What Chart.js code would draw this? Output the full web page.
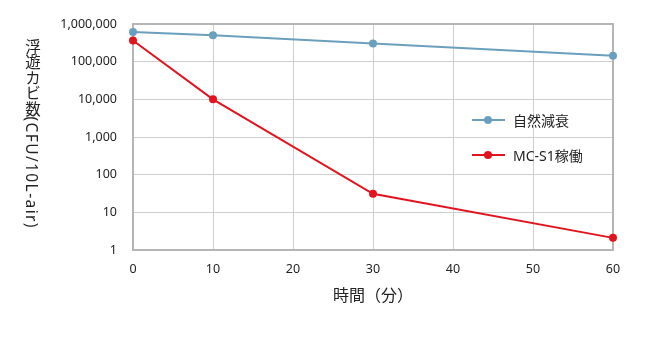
<!DOCTYPE html>
<html lang="ja">
<head>
<meta charset="UTF-8">
<title>浮遊カビ数の推移</title>
<script src="https://cdn.jsdelivr.net/npm/chart.js@4"></script>
<style>
  html, body { margin: 0; padding: 0; background: #fff; }
  body { font-family: 'Noto Sans', 'Noto Sans CJK JP', sans-serif; color: #222; }
  .wrap { position: relative; width: 650px; height: 359px; }
  .y-title { position: absolute; left: 22px; top: 39px; writing-mode: vertical-rl; font-size: 15.5px; line-height: 20px; white-space: nowrap; }
  .y-title .lat { letter-spacing: 1.4px; }
  .legend { position: absolute; left: 472px; top: 110px; font-size: 14px; }
  .legend-item { display: flex; align-items: center; height: 20px; margin-bottom: 15px; }
  .legend-line { position: relative; width: 33px; height: 2px; margin-right: 8px; }
  .legend-line::after { content: ''; position: absolute; left: 12px; top: -3px; width: 8px; height: 8px; border-radius: 50%; background: inherit; }
</style>
</head>
<body>
<div class="wrap">
  <canvas id="chart" width="650" height="359"></canvas>
  <div class="y-title">浮遊カビ数<span class="lat">(CFU/10L-air)</span></div>
  <div class="legend" id="legend"></div>
</div>
<script>
  // data
  const minutes = [0, 10, 30, 60];
  const naturalDecay = [610000, 500000, 305000, 143000];
  const mcS1 = [365000, 10000, 31, 2.1];
  const seriesNames = ['自然減衰', 'MC-S1稼働'];
  const seriesColors = ['#6b9fbe', '#e3131e'];
  const xTicks = [0, 10, 20, 30, 40, 50, 60];
  const yTicks = [1, 10, 100, 1000, 10000, 100000, 1000000];

  const FONT = "'Noto Sans', 'Noto Sans CJK JP', sans-serif";
  const toPoints = vals => minutes.map((m, i) => ({ x: m, y: vals[i] }));

  // gray frame around the plot area, drawn under the lines
  const frame = {
    id: 'frame',
    beforeDatasetsDraw(chart) {
      const { ctx, chartArea: a } = chart;
      ctx.save();
      ctx.strokeStyle = '#b5b5b5';
      ctx.lineWidth = 2;
      ctx.strokeRect(a.left, a.top, a.right - a.left, a.bottom - a.top);
      ctx.restore();
    }
  };

  const datasets = [naturalDecay, mcS1].map((vals, i) => ({
    label: seriesNames[i],
    data: toPoints(vals),
    borderColor: seriesColors[i],
    backgroundColor: seriesColors[i],
    borderWidth: 2,
    pointRadius: 4,
    pointHoverRadius: 4,
    pointBorderWidth: 0,
    tension: 0,
    clip: false
  }));

  new Chart(document.getElementById('chart'), {
    type: 'line',
    data: { datasets },
    options: {
      responsive: false,
      animation: false,
      layout: { padding: { top: 24, right: 37, left: 0, bottom: 0 } },
      plugins: { legend: { display: false }, tooltip: { enabled: false } },
      scales: {
        x: {
          type: 'linear',
          min: 0,
          max: 60,
          afterBuildTicks: s => { s.ticks = xTicks.map(v => ({ value: v })); },
          afterFit: s => { s.height = 109; },
          grid: { color: '#cfcfcf', lineWidth: 1, drawTicks: false },
          border: { display: false },
          ticks: { padding: 12, color: '#222', font: { family: FONT, size: 12.5 } },
          title: {
            display: true,
            text: '時間（分）',
            color: '#222',
            font: { family: FONT, size: 16 },
            padding: { top: 0, bottom: 53 }
          }
        },
        y: {
          type: 'logarithmic',
          min: 1,
          max: 1000000,
          afterBuildTicks: s => { s.ticks = yTicks.map(v => ({ value: v })); },
          afterFit: s => { s.width = 133; },
          grid: { color: '#cfcfcf', lineWidth: 1, drawTicks: false },
          border: { display: false },
          ticks: {
            padding: 16,
            color: '#222',
            font: { family: FONT, size: 12.5 },
            callback: v => Number(v).toLocaleString('en-US')
          }
        }
      }
    },
    plugins: [frame]
  });

  // legend inside the plot, built from the series
  const legend = document.getElementById('legend');
  seriesNames.forEach((name, i) => {
    const item = document.createElement('div');
    item.className = 'legend-item';
    item.innerHTML = '<span class="legend-line" style="background:' + seriesColors[i] + '"></span><span>' + name + '</span>';
    legend.appendChild(item);
  });
</script>
</body>
</html>
